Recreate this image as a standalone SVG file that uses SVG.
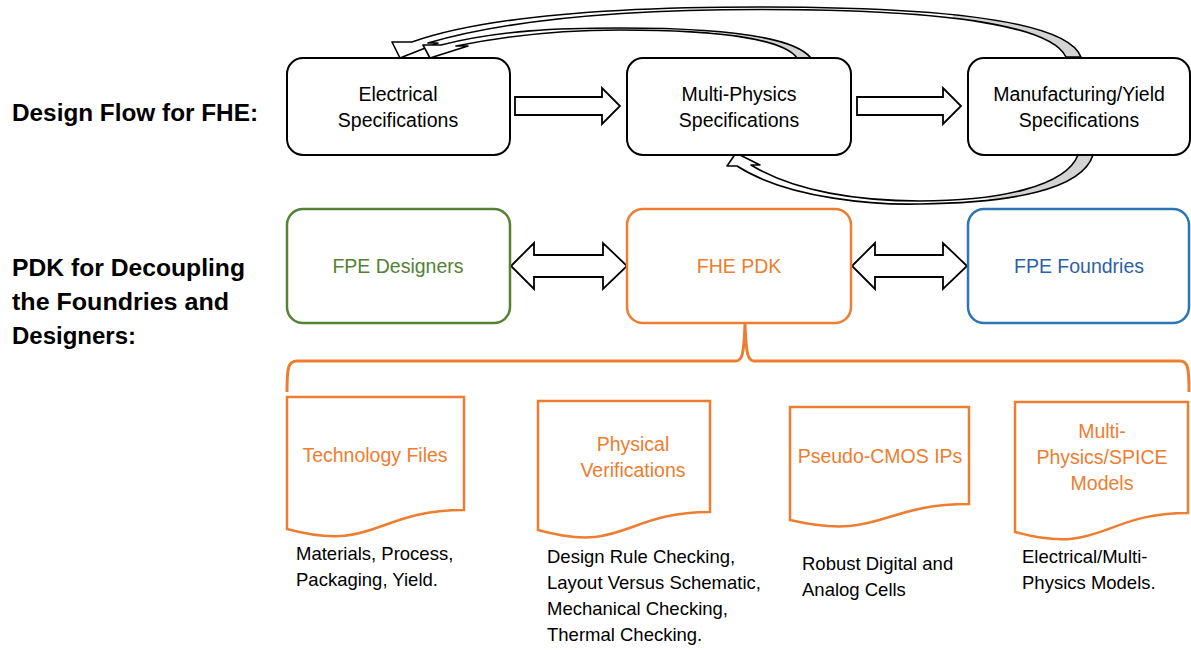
<svg xmlns="http://www.w3.org/2000/svg" width="1191" height="650" viewBox="0 0 1191 650">
<style>
  text { font-family: "Liberation Sans", Arial, sans-serif; }
  .lbl { font-size: 23px; font-weight: bold; fill: #000; }
  .nt { font-size: 19.5px; fill: #000; text-anchor: middle; }
  .box { fill: #fff; stroke: #000; stroke-width: 2; }
  .doc { fill: #fff; stroke: #ED7D31; stroke-width: 2.5; }
  .ot { font-size: 19.5px; fill: #ED7D31; text-anchor: middle; }
  .desc { font-size: 18.5px; fill: #000; }
  .blk { fill: #fff; stroke: #000; stroke-width: 1.8; stroke-linejoin: miter; }
  .rib { stroke: #000; stroke-width: 1.6; stroke-linejoin: round; }
</style>
<defs>
  <linearGradient id="gOuter" gradientUnits="userSpaceOnUse" x1="0" y1="0" x2="1191" y2="0">
    <stop offset="0.8" stop-color="#fff"/><stop offset="0.8" stop-color="#d3d3d3"/>
  </linearGradient>
  <linearGradient id="gInner" gradientUnits="userSpaceOnUse" x1="0" y1="0" x2="1191" y2="0">
    <stop offset="0.6" stop-color="#fff"/><stop offset="0.6" stop-color="#d3d3d3"/>
  </linearGradient>
  <linearGradient id="gBottom" gradientUnits="userSpaceOnUse" x1="0" y1="0" x2="1191" y2="0">
    <stop offset="0.83" stop-color="#fff"/><stop offset="0.83" stop-color="#d3d3d3"/>
  </linearGradient>
</defs>

<g id="labels">
  <text class="lbl" x="12" y="121" textLength="246" lengthAdjust="spacingAndGlyphs">Design Flow for FHE:</text>
  <text class="lbl" x="12" y="276" textLength="233" lengthAdjust="spacingAndGlyphs">PDK for Decoupling</text>
  <text class="lbl" x="12" y="310" textLength="217" lengthAdjust="spacingAndGlyphs">the Foundries and</text>
  <text class="lbl" x="12" y="344" textLength="124" lengthAdjust="spacingAndGlyphs">Designers:</text>
</g>

<g id="connectors">
  <path class="blk" d="M515,97 L602,97 L602,88 L620,106 L602,124 L602,115 L515,115 Z"/>
  <path class="blk" d="M857,97 L943,97 L943,88 L961,106 L943,124 L943,115 L857,115 Z"/>
  <path class="blk" d="M511,266 L534,243 L534,255 L603,255 L603,243 L627,266 L603,289 L603,277 L534,277 L534,289 Z"/>
  <path class="blk" d="M852,266 L875,243 L875,255 L943,255 L943,243 L967,266 L943,289 L943,277 L875,277 L875,289 Z"/>
  <path class="rib" fill="url(#gOuter)" d="M392,42 L412,42 C480,18 600,7 760,7 C960,7 1068,24 1081,57 L1066,57 C1052,28 960,9.5 760,9.5 C610,9.5 500,22 428,43 L438,43 L400,58 Z"/>
  <path class="rib" fill="url(#gInner)" d="M423,45 L441,45 C500,30 560,28 620,28 C730,28 795,38 811,58 L797,58 C785,41 730,30 620,30 C570,30 510,35 456,46 L468,46 L430,58 Z"/>
  <path class="rib" fill="url(#gBottom)" d="M736,153 L727,166 L737,166 C790,200 880,205 920,204 C1010,203 1082,190 1093,155 L1078,155 C1066,186 1000,201 920,201 C860,201 795,192 751,165 L760,165 Z"/>
  <path fill="none" stroke="#ED7D31" stroke-width="3" d="M287,392 C287,368 288,361 297,361 L736,361 C742,361 744,354 745,324 C746,354 748,361 754,361 L1180,361 C1188,361 1189,368 1189,392"/>
</g>

<g id="n-electrical">
  <rect class="box" x="287" y="58" width="223" height="97" rx="16"/>
  <text class="nt" x="398" y="101">Electrical</text>
  <text class="nt" x="398" y="127">Specifications</text>
</g>
<g id="n-multiphysics">
  <rect class="box" x="627" y="58" width="224" height="97" rx="16"/>
  <text class="nt" x="739" y="101">Multi-Physics</text>
  <text class="nt" x="739" y="127">Specifications</text>
</g>
<g id="n-manufacturing">
  <rect class="box" x="968" y="58" width="222" height="97" rx="16"/>
  <text class="nt" x="1079" y="101">Manufacturing/Yield</text>
  <text class="nt" x="1079" y="127">Specifications</text>
</g>

<g id="n-designers">
  <rect x="287" y="209" width="223" height="114" rx="16" fill="#fff" stroke="#548235" stroke-width="2.5"/>
  <text class="nt" x="398" y="273" style="fill:#548235">FPE Designers</text>
</g>
<g id="n-pdk">
  <rect x="627" y="209" width="224" height="114" rx="16" fill="#fff" stroke="#ED7D31" stroke-width="2.5"/>
  <text class="nt" x="739" y="273" style="fill:#ED7D31">FHE PDK</text>
</g>
<g id="n-foundries">
  <rect x="968" y="209" width="221" height="114" rx="16" fill="#fff" stroke="#2E75B6" stroke-width="2.5"/>
  <text class="nt" x="1079" y="273" style="fill:#2E5FA8">FPE Foundries</text>
</g>

<g id="d-tech">
  <path class="doc" d="M287,397 L464,397 L464,510 C375,510 375,553 287,529 Z"/>
  <text class="ot" x="375" y="462">Technology Files</text>
  <text class="desc" x="296" y="560">Materials, Process,</text>
  <text class="desc" x="296" y="586">Packaging, Yield.</text>
</g>
<g id="d-phys">
  <path class="doc" d="M538,401 L710,401 L710,512 C624,512 624,554 538,530 Z"/>
  <text class="ot" x="633" y="451">Physical</text>
  <text class="ot" x="633" y="477">Verifications</text>
  <text class="desc" x="547" y="563">Design Rule Checking,</text>
  <text class="desc" x="547" y="589">Layout Versus Schematic,</text>
  <text class="desc" x="547" y="615">Mechanical Checking,</text>
  <text class="desc" x="547" y="641">Thermal Checking.</text>
</g>
<g id="d-cmos">
  <path class="doc" d="M790,407 L969,407 L969,504 C880,504 880,541 790,520 Z"/>
  <text class="ot" x="880" y="463">Pseudo-CMOS IPs</text>
  <text class="desc" x="802" y="570">Robust Digital and</text>
  <text class="desc" x="802" y="596">Analog Cells</text>
</g>
<g id="d-models">
  <path class="doc" d="M1015,402 L1188,402 L1188,513 C1102,513 1102,556 1015,532 Z"/>
  <text class="ot" x="1102" y="438">Multi-</text>
  <text class="ot" x="1102" y="464">Physics/SPICE</text>
  <text class="ot" x="1102" y="490">Models</text>
  <text class="desc" x="1022" y="563">Electrical/Multi-</text>
  <text class="desc" x="1022" y="589">Physics Models.</text>
</g>
</svg>
